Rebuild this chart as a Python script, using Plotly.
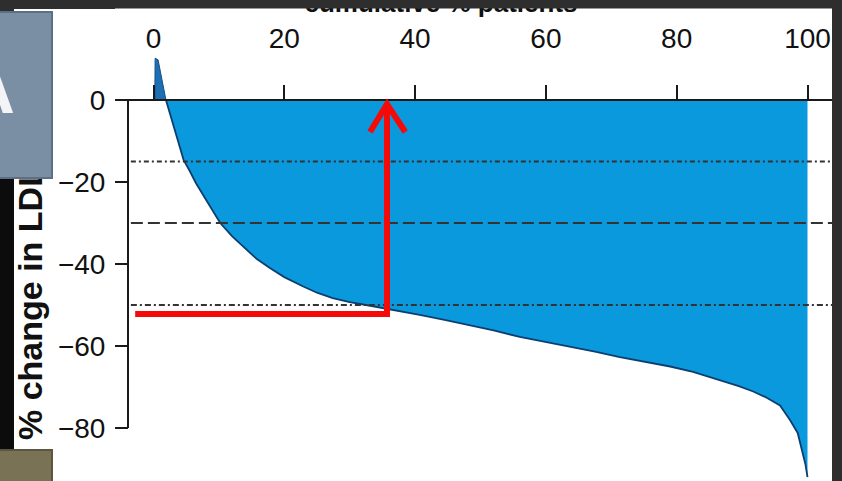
import plotly.graph_objects as go

# ---- data ----
cum_pct = [1.9, 3, 4, 4.6, 5.5, 6.5, 8.1, 10.2, 12, 13.7, 15.8, 17.8, 20, 22.9, 25, 27.4,
           30, 32.5, 35, 37.5, 40.7, 44.5, 48.4, 52, 56, 60, 63.7, 67.5, 71.3, 75, 79,
           82.5, 86.6, 89.5, 91.7, 93.5, 95.8, 97.3, 98.5, 99.3, 99.7, 100]
pct_change = [0, -6, -11.5, -14.6, -17.2, -20.3, -24.5, -30, -33.2, -35.8, -38.8, -41, -43.2,
              -45.5, -47, -48.3, -49.3, -50, -50.7, -51.5, -52.4, -53.6, -54.9, -56.2, -57.8,
              -59, -60.2, -61.4, -62.7, -63.8, -65, -66.3, -68.3, -69.8, -71.1, -72.4, -74.5,
              -78, -81.2, -86, -89, -92]
spike_pct = [0.2, 0.25, 0.7, 1.9]
spike_change = [0, 10.2, 9.8, 0]

x_ticks = [0, 20, 40, 60, 80, 100]
y_ticks = [0, -20, -40, -60, -80]
ref_levels = [-15, -30, -50]
ref_dashes = ["5px,3px,2px,3px", "12px,5px", "6px,3px,2px,3px"]

arrow_level = -52.2
arrow_start = -2.8
arrow_x = 35.7

title_text = "cumulative % patients"
ylabel_text = "% change in LDL-C"

# ---- geometry ----
W, H = 842, 481
L, R, T, B = 115, 10, 0, 0
pw, ph = W - L - R, H - T - B
xr = [-5.887, 103.746]
yr = [-(481 - 100) / 4.1, 100 / 4.1]


def px(X):
    return (X - L) / pw


def py(Y):
    return (H - B - Y) / ph


def dx(X):
    return xr[0] + (X - L) / pw * (xr[1] - xr[0])


def dy(Y):
    return yr[1] - (Y - T) / ph * (yr[1] - yr[0])


yaxis_pos = px(128)
xaxis_pos = py(100)

wide = "Liberation Sans, Arial"

fig = go.Figure()
fig.add_trace(go.Scatter(x=spike_pct, y=spike_change, mode="lines", fill="tozeroy",
                         fillcolor="#1c6fb2", line=dict(color="#174f86", width=1),
                         hoverinfo="skip", showlegend=False))
fig.add_trace(go.Scatter(x=cum_pct, y=pct_change, mode="lines", fill="tozeroy",
                         fillcolor="#0b99de", line=dict(color="#0c3f70", width=1.8),
                         hoverinfo="skip", showlegend=False))
# title as text (so the dark top bar shape can cover its upper part)
fig.add_trace(go.Scatter(x=[dx(441)], y=[dy(5)], mode="text", text=[title_text],
                         textposition="middle center", cliponaxis=False,
                         textfont=dict(family=wide, size=26, color="#111111", weight="bold"),
                         hoverinfo="skip", showlegend=False))

shapes = []
# panels
shapes.append(dict(type="rect", xref="paper", yref="paper", x0=px(14), x1=px(832),
                   y0=py(481), y1=py(9), fillcolor="white", line=dict(width=0), layer="below"))
shapes.append(dict(type="rect", xref="paper", yref="paper", x0=px(832), x1=px(850),
                   y0=py(490), y1=py(0), fillcolor="#2e2e2e", line=dict(width=0), layer="below"))
shapes.append(dict(type="rect", xref="paper", yref="paper", x0=px(0), x1=px(14),
                   y0=py(449), y1=py(178), fillcolor="#0c0c0c", line=dict(width=0), layer="below"))
shapes.append(dict(type="rect", xref="paper", yref="paper", x0=px(-5), x1=px(850),
                   y0=py(8.5), y1=py(-5), fillcolor="#2e2e2e", line=dict(width=0), layer="above"))
# reference lines
for lvl, dsh in zip(ref_levels, ref_dashes):
    shapes.append(dict(type="line", xref="paper", yref="y", x0=yaxis_pos + 0.004, x1=1,
                       y0=lvl, y1=lvl, line=dict(color="#333333", width=1.8, dash=dsh),
                       layer="above"))
# y axis line
shapes.append(dict(type="line", xref="paper", yref="y", x0=yaxis_pos, x1=yaxis_pos,
                   y0=y_ticks[0], y1=y_ticks[-1], line=dict(color="#1a1a1a", width=2),
                   layer="above"))
# red arrow
shapes.append(dict(type="path", xref="x", yref="y",
                   path=f"M {arrow_start},{arrow_level} L {arrow_x},{arrow_level} L {arrow_x},-1.2",
                   line=dict(color="#f50a0a", width=6), layer="above"))
shapes.append(dict(type="path", xref="x", yref="y",
                   path=f"M {arrow_x - 2.6},-7.8 L {arrow_x},-1.0 L {arrow_x + 2.8},-7.8",
                   line=dict(color="#f50a0a", width=6), layer="above"))

annotations = [
    dict(text=ylabel_text, xref="paper", yref="paper", x=px(30), y=py(441),
         xanchor="center", yanchor="bottom", textangle=-90, showarrow=False, borderpad=0,
         font=dict(family=wide, size=34, color="#111111", weight="bold")),
    dict(text=" ", xref="paper", yref="paper", x=px(53), y=py(11), xanchor="right",
         yanchor="top", showarrow=False, width=70, height=164, bgcolor="#7b8fa4",
         bordercolor="#5b6f85", borderwidth=2, borderpad=0),
    dict(text="A", xref="paper", yref="paper", x=px(-11), y=py(88), xanchor="center",
         yanchor="middle", showarrow=False,
         font=dict(family=wide, size=72, color="#f2f4f6", weight="bold")),
    dict(text=" ", xref="paper", yref="paper", x=px(53), y=py(449), xanchor="right",
         yanchor="top", showarrow=False, width=70, height=60, bgcolor="#7a7254",
         bordercolor="#5c5640", borderwidth=2, borderpad=0),
]

fig.update_layout(
    width=W, height=H,
    margin=dict(l=L, r=R, t=T, b=B, pad=0),
    paper_bgcolor="#2e2e2e", plot_bgcolor="white",
    showlegend=False,
    shapes=shapes, annotations=annotations,
    xaxis=dict(range=xr, side="top", anchor="free", position=xaxis_pos,
               tickvals=x_ticks, ticks="outside", ticklen=14, tickwidth=2,
               tickcolor="#1a1a1a", showline=True, linecolor="#1a1a1a", linewidth=2,
               showgrid=False, zeroline=False, ticklabelstandoff=26,
               tickfont=dict(family=wide, size=28, color="#111111")),
    yaxis=dict(range=yr, anchor="free", position=yaxis_pos, tickvals=y_ticks,
               ticks="outside", ticklen=13, tickwidth=2, tickcolor="#1a1a1a",
               showline=False, showgrid=False, zeroline=False, ticklabelstandoff=4,
               tickfont=dict(family=wide, size=28, color="#111111")),
)

fig.write_html("out.html", config={"displayModeBar": False},
               post_script="document.body.style.margin='0';document.body.style.overflow='hidden';")
